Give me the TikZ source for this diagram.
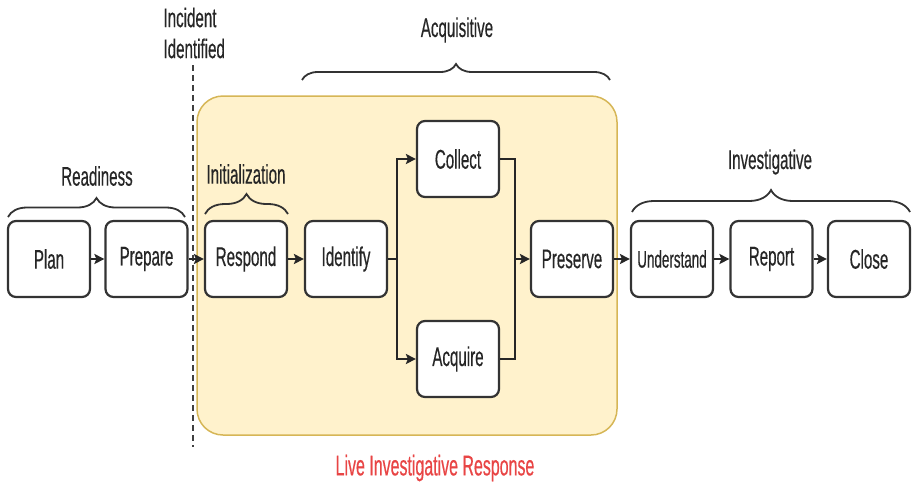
\documentclass[tikz,border=0pt]{standalone}
\usepackage{fontspec}
\setmainfont{Liberation Sans}[FakeStretch=0.56, FakeBold=0.4]
\usetikzlibrary{arrows.meta,decorations.pathreplacing}
\definecolor{phasefill}{HTML}{FFF2CC}
\definecolor{phaseline}{HTML}{D6B656}
\definecolor{boxline}{HTML}{333333}
\definecolor{livered}{HTML}{E84545}
\tikzset{
  stepbox/.style={draw=boxline, line width=2.2pt, rounded corners=8pt, fill=white,
    minimum width=82pt, minimum height=76pt, inner sep=0pt,
    font=\fontsize{27}{31}\selectfont, text=black!85},
  flow/.style={draw=black!85, line width=2.4pt, -{Stealth[length=10pt,width=10pt,inset=2pt]}},
  link/.style={draw=black!85, line width=2.4pt},
  phasebrace/.style={draw=black!80, line width=1.8pt, decorate},
  phaselabel/.style={font=\fontsize{27}{31}\selectfont, text=black!85}
}
\begin{document}
\begin{tikzpicture}[x=1pt,y=-1pt]
\useasboundingbox (0,0) rectangle (912,493);

% live response area
\draw[fill=phasefill, draw=phaseline, line width=1.5pt, rounded corners=26pt]
  (197,96) rectangle (617,435);

% incident marker
\draw[dashed, dash pattern=on 6pt off 4pt, line width=1.6pt, black!75] (193,65) -- (193,447);
\node[phaselabel, anchor=west, align=left] (incident) at (160,33) {Incident\\Identified};

% steps
\node[stepbox] (plan) at (49,259) {Plan};
\node[stepbox] (prepare) at (146.5,259) {Prepare};
\node[stepbox] (respond) at (246,259) {Respond};
\node[stepbox] (identify) at (346,259) {Identify};
\node[stepbox] (collect) at (458,159) {Collect};
\node[stepbox] (acquire) at (458,359) {Acquire};
\node[stepbox] (preserve) at (572,259) {Preserve};
\node[stepbox, font=\fontsize{24}{28}\selectfont] (understand) at (672,259) {Understand};
\node[stepbox] (report) at (771.5,259) {Report};
\node[stepbox] (close) at (869,259) {Close};

% junctions
\coordinate (split) at (397,259);
\coordinate (merge) at (515,259);

% connectors
\draw[flow] (plan) -- (prepare);
\draw[flow] (prepare) -- (respond);
\draw[flow] (respond) -- (identify);
\draw[link] (identify) -- (split);
\draw[flow] (split) |- (collect.west);
\draw[flow] (split) |- (acquire.west);
\draw[link] (collect.east) -| (merge);
\draw[link] (acquire.east) -| (merge);
\draw[flow] (merge) -- (preserve);
\draw[flow] (preserve) -- (understand);
\draw[flow] (understand) -- (report);
\draw[flow] (report) -- (close);

% phase braces and labels
\draw[phasebrace, decoration={brace, amplitude=19pt}] (8,217) -- (185,217);
\node[phaselabel] (readiness) at (97,176) {Readiness};
\draw[phasebrace, decoration={brace, amplitude=20pt}] (205,214) -- (288,214);
\node[phaselabel] (init) at (246,174) {Initialization};
\draw[phasebrace, decoration={brace, amplitude=16pt}] (302,80) -- (610,80);
\node[phaselabel] (acq) at (457,30) {Acquisitive};
\draw[phasebrace, decoration={brace, amplitude=22pt}] (632,212) -- (910,212);
\node[phaselabel] (inv) at (770,162) {Investigative};

\node[font=\fontsize{28.5}{32}\selectfont, text=livered] (live) at (435,468) {Live Investigative Response};
\end{tikzpicture}
\end{document}
